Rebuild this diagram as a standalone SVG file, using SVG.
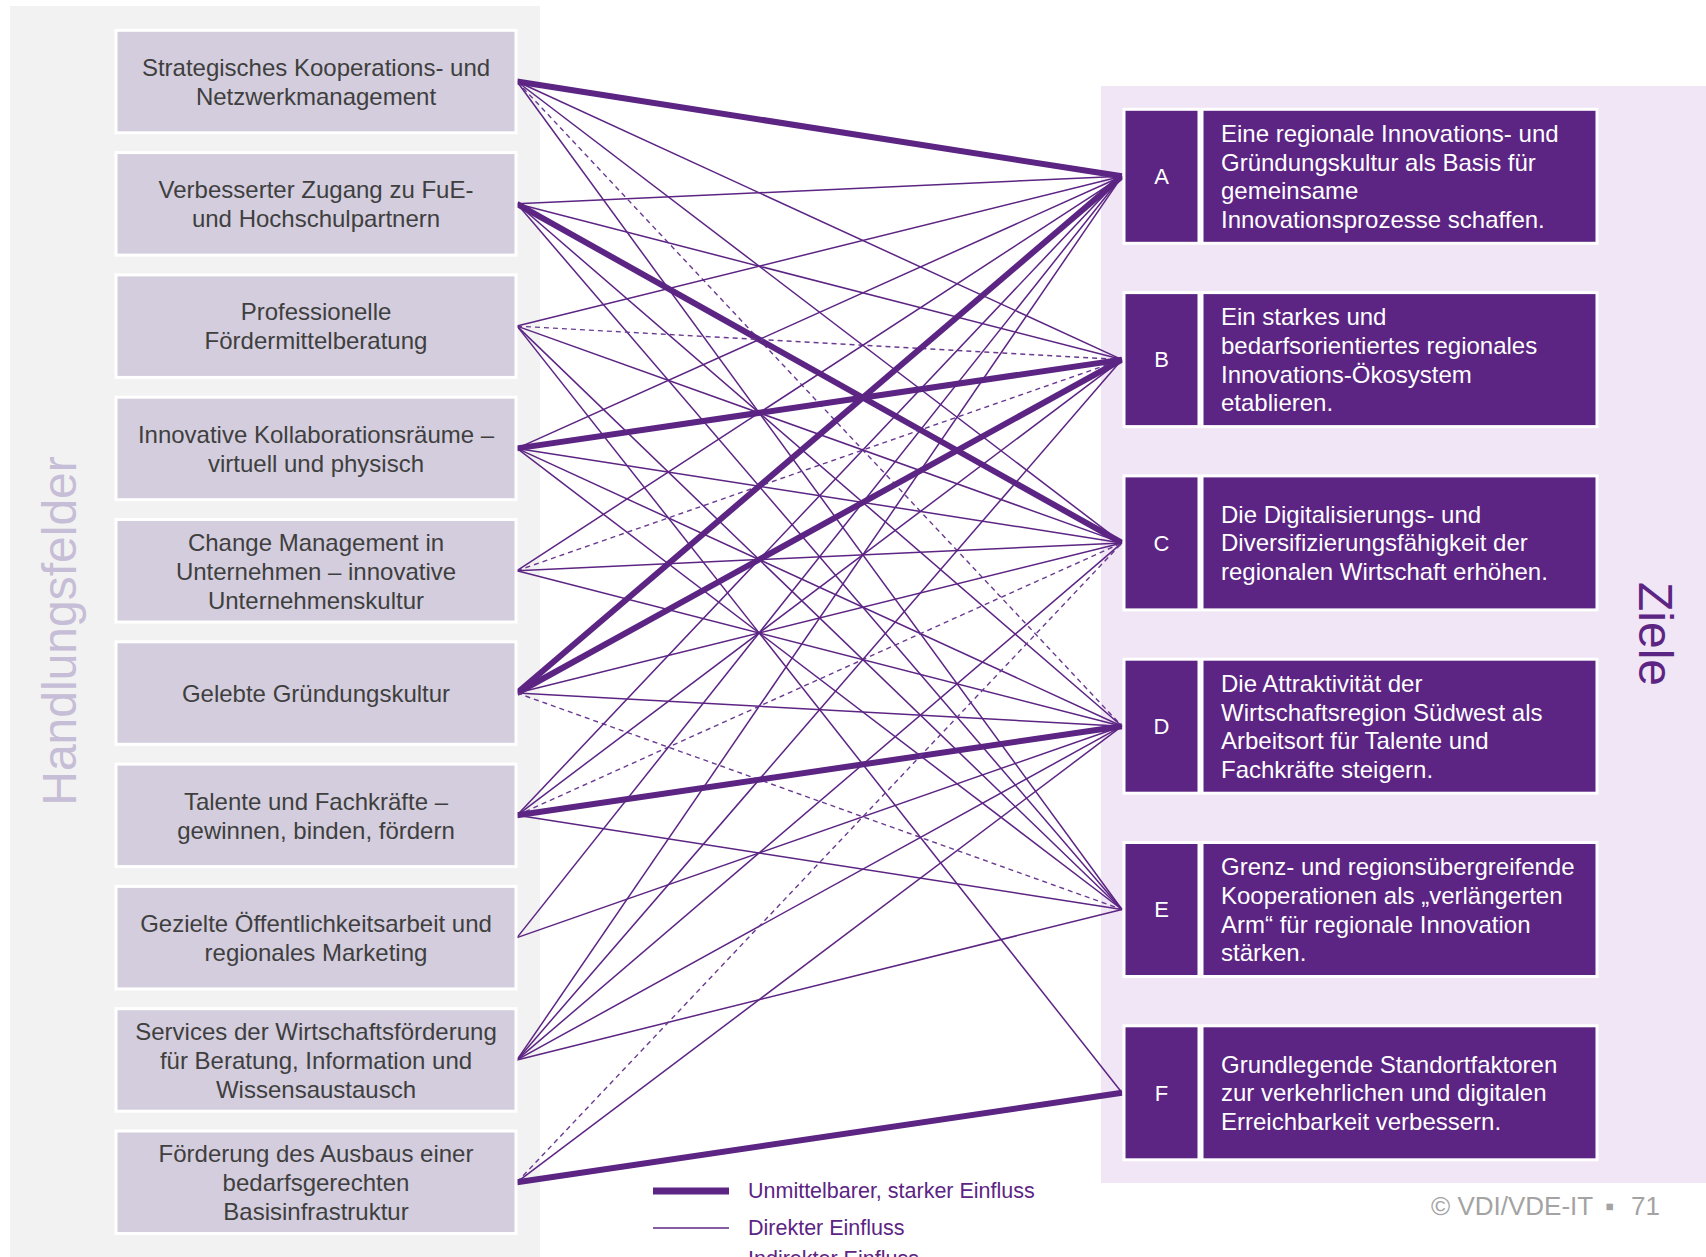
<svg xmlns="http://www.w3.org/2000/svg" width="1706" height="1257" viewBox="0 0 1706 1257">
<style>
text{font-family:"Liberation Sans",Arial,sans-serif}
.lb{fill:#d3cddd;stroke:#ffffff;stroke-width:3}
.lt{font-size:24px;fill:#3f3f3f;text-anchor:middle}
.rc{fill:#5c2483;stroke:#ffffff;stroke-width:3}
.rl{font-size:22px;fill:#ffffff;text-anchor:middle}
.rt{font-size:24px;fill:#ffffff}
.s{stroke:#5c2483;stroke-width:6;fill:none}
.d{stroke:#5c2483;stroke-width:1.5;fill:none}
.i{stroke:#6a3a91;stroke-width:1.4;stroke-dasharray:5 4;fill:none}
.lg{font-size:21.5px;fill:#5c2483}
.cp{font-size:26px;fill:#a3a3a3}
</style>
<rect x="10" y="6" width="530" height="1260" fill="#f2f2f2"/>
<rect x="1101" y="86" width="605" height="1097" fill="#f1e6f5"/>
<text transform="translate(76,631) rotate(-90)" font-size="48" fill="#c6bdd6" text-anchor="middle">Handlungsfelder</text>
<text transform="translate(1639,634) rotate(90)" font-size="48" fill="#5c2483" text-anchor="middle">Ziele</text>

<g id="connectors">
<line class="s" x1="517" y1="81.5" x2="1122" y2="176.3"/>
<line class="d" x1="517" y1="81.5" x2="1122" y2="359.6"/>
<line class="d" x1="517" y1="81.5" x2="1122" y2="542.9"/>
<line class="i" x1="517" y1="81.5" x2="1122" y2="726.2"/>
<line class="d" x1="517" y1="81.5" x2="1122" y2="909.5"/>

<line class="d" x1="517" y1="203.8" x2="1122" y2="176.3"/>
<line class="d" x1="517" y1="203.8" x2="1122" y2="359.6"/>
<line class="s" x1="517" y1="203.8" x2="1122" y2="542.9"/>
<line class="d" x1="517" y1="203.8" x2="1122" y2="726.2"/>
<line class="d" x1="517" y1="203.8" x2="1122" y2="909.5"/>

<line class="d" x1="517" y1="326.1" x2="1122" y2="176.3"/>
<line class="i" x1="517" y1="326.1" x2="1122" y2="359.6"/>
<line class="d" x1="517" y1="326.1" x2="1122" y2="542.9"/>
<line class="d" x1="517" y1="326.1" x2="1122" y2="909.5"/>
<line class="d" x1="517" y1="326.1" x2="1122" y2="1092.8"/>

<line class="d" x1="517" y1="448.4" x2="1122" y2="176.3"/>
<line class="s" x1="517" y1="448.4" x2="1122" y2="359.6"/>
<line class="d" x1="517" y1="448.4" x2="1122" y2="542.9"/>
<line class="d" x1="517" y1="448.4" x2="1122" y2="726.2"/>
<line class="d" x1="517" y1="448.4" x2="1122" y2="909.5"/>

<line class="d" x1="517" y1="570.7" x2="1122" y2="176.3"/>
<line class="i" x1="517" y1="570.7" x2="1122" y2="359.6"/>
<line class="d" x1="517" y1="570.7" x2="1122" y2="542.9"/>
<line class="d" x1="517" y1="570.7" x2="1122" y2="726.2"/>

<line class="s" x1="517" y1="693" x2="1122" y2="176.3"/>
<line class="s" x1="517" y1="693" x2="1122" y2="359.6"/>
<line class="d" x1="517" y1="693" x2="1122" y2="542.9"/>
<line class="d" x1="517" y1="693" x2="1122" y2="726.2"/>
<line class="i" x1="517" y1="693" x2="1122" y2="909.5"/>

<line class="d" x1="517" y1="815.3" x2="1122" y2="176.3"/>
<line class="d" x1="517" y1="815.3" x2="1122" y2="359.6"/>
<line class="i" x1="517" y1="815.3" x2="1122" y2="542.9"/>
<line class="s" x1="517" y1="815.3" x2="1122" y2="726.2"/>
<line class="d" x1="517" y1="815.3" x2="1122" y2="909.5"/>

<line class="d" x1="517" y1="937.6" x2="1122" y2="176.3"/>
<line class="d" x1="517" y1="937.6" x2="1122" y2="726.2"/>

<line class="d" x1="517" y1="1059.9" x2="1122" y2="176.3"/>
<line class="d" x1="517" y1="1059.9" x2="1122" y2="359.6"/>
<line class="d" x1="517" y1="1059.9" x2="1122" y2="542.9"/>
<line class="d" x1="517" y1="1059.9" x2="1122" y2="726.2"/>
<line class="d" x1="517" y1="1059.9" x2="1122" y2="909.5"/>

<line class="i" x1="517" y1="1182.2" x2="1122" y2="542.9"/>
<line class="d" x1="517" y1="1182.2" x2="1122" y2="726.2"/>
<line class="s" x1="517" y1="1182.2" x2="1122" y2="1092.8"/>
</g>

<g id="h1"><rect class="lb" x="116" y="30.3" width="400" height="102.5"/><text class="lt"><tspan x="316" y="75.8">Strategisches Kooperations- und</tspan><tspan x="316" y="104.8">Netzwerkmanagement</tspan></text></g>
<g id="h2"><rect class="lb" x="116" y="152.6" width="400" height="102.5"/><text class="lt"><tspan x="316" y="198.1">Verbesserter Zugang zu FuE-</tspan><tspan x="316" y="227.1">und Hochschulpartnern</tspan></text></g>
<g id="h3"><rect class="lb" x="116" y="274.9" width="400" height="102.5"/><text class="lt"><tspan x="316" y="320.4">Professionelle</tspan><tspan x="316" y="349.4">Fördermittelberatung</tspan></text></g>
<g id="h4"><rect class="lb" x="116" y="397.2" width="400" height="102.5"/><text class="lt"><tspan x="316" y="442.7">Innovative Kollaborationsräume –</tspan><tspan x="316" y="471.7">virtuell und physisch</tspan></text></g>
<g id="h5"><rect class="lb" x="116" y="519.5" width="400" height="102.5"/><text class="lt"><tspan x="316" y="550.7">Change Management in</tspan><tspan x="316" y="579.7">Unternehmen – innovative</tspan><tspan x="316" y="608.7">Unternehmenskultur</tspan></text></g>
<g id="h6"><rect class="lb" x="116" y="641.8" width="400" height="102.5"/><text class="lt"><tspan x="316" y="702">Gelebte Gründungskultur</tspan></text></g>
<g id="h7"><rect class="lb" x="116" y="764.1" width="400" height="102.5"/><text class="lt"><tspan x="316" y="809.6">Talente und Fachkräfte –</tspan><tspan x="316" y="838.6">gewinnen, binden, fördern</tspan></text></g>
<g id="h8"><rect class="lb" x="116" y="886.4" width="400" height="102.5"/><text class="lt"><tspan x="316" y="931.9">Gezielte Öffentlichkeitsarbeit und</tspan><tspan x="316" y="960.9">regionales Marketing</tspan></text></g>
<g id="h9"><rect class="lb" x="116" y="1008.7" width="400" height="102.5"/><text class="lt"><tspan x="316" y="1039.9">Services der Wirtschaftsförderung</tspan><tspan x="316" y="1068.9">für Beratung, Information und</tspan><tspan x="316" y="1097.9">Wissensaustausch</tspan></text></g>
<g id="h10"><rect class="lb" x="116" y="1131" width="400" height="102.5"/><text class="lt"><tspan x="316" y="1162.2">Förderung des Ausbaus einer</tspan><tspan x="316" y="1191.2">bedarfsgerechten</tspan><tspan x="316" y="1220.2">Basisinfrastruktur</tspan></text></g>

<g id="zA"><rect class="rc" x="1124" y="109.3" width="75" height="134"/><rect class="rc" x="1202" y="109.3" width="395" height="134"/><text class="rl" x="1161.5" y="184">A</text><text class="rt"><tspan x="1221" y="142">Eine regionale Innovations- und</tspan><tspan x="1221" y="170.7">Gründungskultur als Basis für</tspan><tspan x="1221" y="199.4">gemeinsame</tspan><tspan x="1221" y="228.1">Innovationsprozesse schaffen.</tspan></text></g>
<g id="zB"><rect class="rc" x="1124" y="292.6" width="75" height="134"/><rect class="rc" x="1202" y="292.6" width="395" height="134"/><text class="rl" x="1161.5" y="367.3">B</text><text class="rt"><tspan x="1221" y="325.3">Ein starkes und</tspan><tspan x="1221" y="354">bedarfsorientiertes regionales</tspan><tspan x="1221" y="382.7">Innovations-Ökosystem</tspan><tspan x="1221" y="411.4">etablieren.</tspan></text></g>
<g id="zC"><rect class="rc" x="1124" y="475.9" width="75" height="134"/><rect class="rc" x="1202" y="475.9" width="395" height="134"/><text class="rl" x="1161.5" y="550.6">C</text><text class="rt"><tspan x="1221" y="522.7">Die Digitalisierungs- und</tspan><tspan x="1221" y="551.4">Diversifizierungsfähigkeit der</tspan><tspan x="1221" y="580.1">regionalen Wirtschaft erhöhen.</tspan></text></g>
<g id="zD"><rect class="rc" x="1124" y="659.2" width="75" height="134"/><rect class="rc" x="1202" y="659.2" width="395" height="134"/><text class="rl" x="1161.5" y="733.9">D</text><text class="rt"><tspan x="1221" y="691.9">Die Attraktivität der</tspan><tspan x="1221" y="720.6">Wirtschaftsregion Südwest als</tspan><tspan x="1221" y="749.3">Arbeitsort für Talente und</tspan><tspan x="1221" y="778">Fachkräfte steigern.</tspan></text></g>
<g id="zE"><rect class="rc" x="1124" y="842.5" width="75" height="134"/><rect class="rc" x="1202" y="842.5" width="395" height="134"/><text class="rl" x="1161.5" y="917.2">E</text><text class="rt"><tspan x="1221" y="875.2">Grenz- und regionsübergreifende</tspan><tspan x="1221" y="903.9">Kooperationen als „verlängerten</tspan><tspan x="1221" y="932.6">Arm“ für regionale Innovation</tspan><tspan x="1221" y="961.3">stärken.</tspan></text></g>
<g id="zF"><rect class="rc" x="1124" y="1025.8" width="75" height="134"/><rect class="rc" x="1202" y="1025.8" width="395" height="134"/><text class="rl" x="1161.5" y="1100.5">F</text><text class="rt"><tspan x="1221" y="1072.6">Grundlegende Standortfaktoren</tspan><tspan x="1221" y="1101.3">zur verkehrlichen und digitalen</tspan><tspan x="1221" y="1130">Erreichbarkeit verbessern.</tspan></text></g>

<g id="legend">
<line class="s" x1="653" y1="1191" x2="729" y2="1191" style="stroke-width:7"/>
<text class="lg" x="748" y="1197.5">Unmittelbarer, starker Einfluss</text>
<line class="d" x1="653" y1="1228" x2="729" y2="1228"/>
<text class="lg" x="748" y="1235">Direkter Einfluss</text>
<line class="i" x1="653" y1="1262" x2="729" y2="1262"/>
<text class="lg" x="748" y="1266">Indirekter Einfluss</text>
</g>
<g id="footer">
<text class="cp" x="1431" y="1215">© VDI/VDE-IT</text>
<text class="cp" x="1605" y="1215">▪</text>
<text class="cp" x="1631" y="1215">71</text>
</g>
</svg>
